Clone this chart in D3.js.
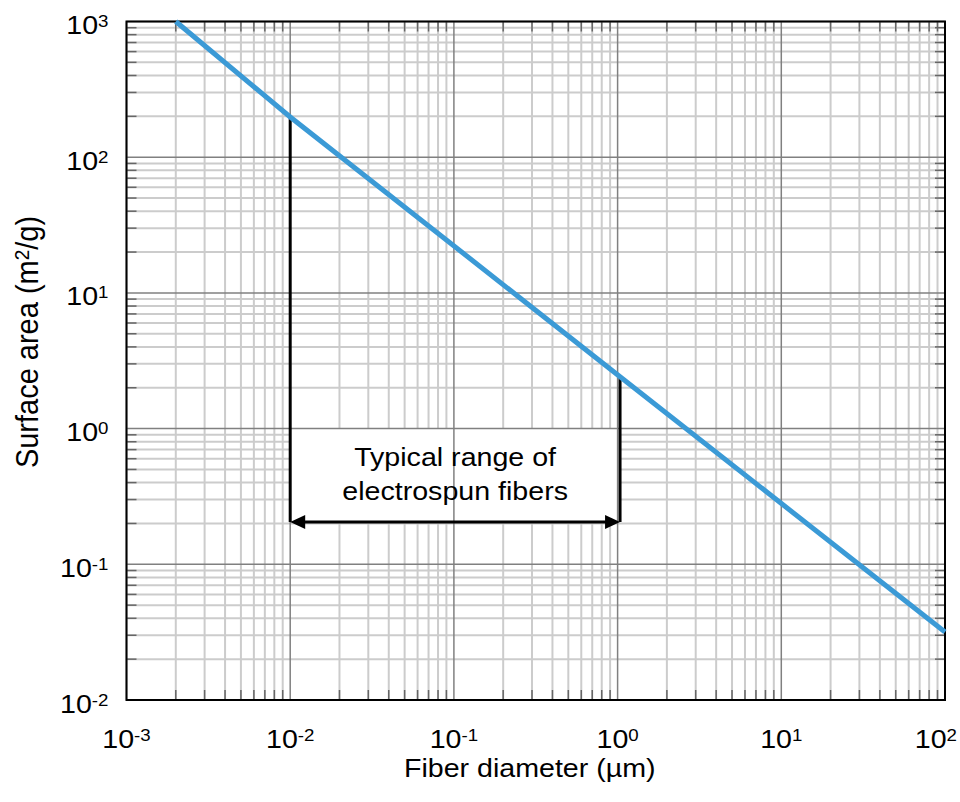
<!DOCTYPE html>
<html>
<head>
<meta charset="utf-8">
<script src="https://cdn.jsdelivr.net/npm/d3@7"></script>
<style>
  body { margin: 0; background: #fff; }
  text { font-family: "Liberation Sans", Arial, sans-serif; fill: #000; }
</style>
</head>
<body>
<script>
// data
var diameter = [0.002, 0.01, 1.035, 100];      // µm
var surfaceArea = [1000, 198, 2.41, 0.0317];    // m²/g
var xExponents = [-3, -2, -1, 0, 1, 2];
var yExponents = [-2, -1, 0, 1, 2, 3];
var rangeLow = 0.01, rangeHigh = 1.035, rangeArrowY = 0.205;
var rangeLabel = ["Typical range of", "electrospun fibers"];

// set the dimensions and margins of the graph
var margin = {top: 21.5, right: 15, bottom: 102, left: 126.5},
    width = 960 - margin.left - margin.right,
    height = 802 - margin.top - margin.bottom;

// the original is a bit wider than tall, so horizontal text gets stretched
var sx = 1.1;

var svg = d3.select("body")
  .append("svg")
    .attr("width", 960)
    .attr("height", 802)
  .append("g")
    .attr("transform", "translate(" + margin.left + "," + margin.top + ")");

var x = d3.scaleLog().domain([1e-3, 1e2]).range([0, width]);
var y = d3.scaleLog().domain([1e-2, 1e3]).range([height, 0]);

// minor values 2..9 for each decade
function minors(exps) {
  var out = [];
  for (var i = 0; i < exps.length - 1; i++) {
    for (var k = 2; k <= 9; k++) out.push(k * Math.pow(10, exps[i]));
  }
  return out;
}
var xMinor = minors(xExponents), yMinor = minors(yExponents);
var xMajor = xExponents.map(function(e) { return Math.pow(10, e); });
var yMajor = yExponents.map(function(e) { return Math.pow(10, e); });

// minor grid
svg.append("g").selectAll("line")
  .data(xMinor).enter().append("line")
    .attr("x1", function(d) { return x(d); }).attr("x2", function(d) { return x(d); })
    .attr("y1", 0).attr("y2", height)
    .attr("stroke", "#cccccc").attr("stroke-width", 2);
svg.append("g").selectAll("line")
  .data(yMinor).enter().append("line")
    .attr("y1", function(d) { return y(d); }).attr("y2", function(d) { return y(d); })
    .attr("x1", 0).attr("x2", width)
    .attr("stroke", "#cccccc").attr("stroke-width", 2);

// inner minor ticks on all four sides
var tl = 10;
var tickG = svg.append("g").attr("stroke", "#666").attr("stroke-width", 1.5);
xMinor.forEach(function(d) {
  tickG.append("line").attr("x1", x(d)).attr("x2", x(d)).attr("y1", height).attr("y2", height - tl);
  tickG.append("line").attr("x1", x(d)).attr("x2", x(d)).attr("y1", 0).attr("y2", tl);
});
yMinor.forEach(function(d) {
  tickG.append("line").attr("y1", y(d)).attr("y2", y(d)).attr("x1", 0).attr("x2", tl);
  tickG.append("line").attr("y1", y(d)).attr("y2", y(d)).attr("x1", width).attr("x2", width - tl);
});

// white box behind the annotation
svg.append("rect")
  .attr("x", x(rangeLow)).attr("y", y(1))
  .attr("width", x(rangeHigh) - x(rangeLow))
  .attr("height", y(rangeArrowY) - y(1))
  .attr("fill", "#fff");

// major grid
svg.append("g").selectAll("line")
  .data(xMajor).enter().append("line")
    .attr("x1", function(d) { return x(d); }).attr("x2", function(d) { return x(d); })
    .attr("y1", 0).attr("y2", height)
    .attr("stroke", "#808080").attr("stroke-width", 1.5);
svg.append("g").selectAll("line")
  .data(yMajor).enter().append("line")
    .attr("y1", function(d) { return y(d); }).attr("y2", function(d) { return y(d); })
    .attr("x1", 0).attr("x2", width)
    .attr("stroke", "#808080").attr("stroke-width", 1.5);

// frame
svg.append("rect")
  .attr("width", width).attr("height", height)
  .attr("fill", "none").attr("stroke", "#000").attr("stroke-width", 2);

function powerLabel(t, d) {
  t.style("font-size", "26px");
  t.append("tspan").text("10");
  t.append("tspan").attr("dy", -7).style("font-size", "17px").text(d);
}

// tick labels
svg.append("g").selectAll("text")
  .data(xExponents).enter().append("text")
    .attr("transform", function(d) {
      return "translate(" + x(Math.pow(10, d)) + "," + (height + 48) + ")scale(" + sx + ",1)";
    })
    .attr("text-anchor", "middle")
    .each(function(d) {
      var t = d3.select(this);
      powerLabel(t, d);
      // keep the last label inside the picture
      var w = this.getBBox().width * sx;
      var cx = x(Math.pow(10, d));
      var maxRight = 960 - margin.left - 3;
      if (cx + w / 2 > maxRight) {
        t.attr("transform", "translate(" + (maxRight - w / 2) + "," + (height + 48) + ")scale(" + sx + ",1)");
      }
    });
svg.append("g").selectAll("text")
  .data(yExponents).enter().append("text")
    .attr("transform", function(d) {
      return "translate(-18," + (y(Math.pow(10, d)) + 12.5) + ")scale(" + sx + ",1)";
    })
    .attr("text-anchor", "end")
    .each(function(d) { powerLabel(d3.select(this), d); });

// axis titles
svg.append("text")
  .attr("transform", "translate(" + (width / 2 - 6) + "," + (height + 77) + ")scale(" + sx + ",1)")
  .attr("text-anchor", "middle")
  .style("font-size", "26px")
  .text("Fiber diameter (µm)");

var yt = svg.append("text")
  .attr("transform", "translate(" + (38 - margin.left) + "," + (342 - margin.top) + ")rotate(-90)scale(1," + sx + ")")
  .attr("text-anchor", "middle")
  .style("font-size", "29px");
yt.append("tspan").text("Surface area (m");
yt.append("tspan").attr("dy", -8).style("font-size", "19px").text("2");
yt.append("tspan").attr("dy", 8).text("/g)");

// range bracket
var curve = d3.scaleLog().domain(diameter).range(surfaceArea);
[rangeLow, rangeHigh].forEach(function(d) {
  svg.append("line")
    .attr("x1", x(d)).attr("x2", x(d))
    .attr("y1", y(curve(d))).attr("y2", y(rangeArrowY))
    .attr("stroke", "#000").attr("stroke-width", 3);
});
var ay = y(rangeArrowY), ax0 = x(rangeLow), ax1 = x(rangeHigh);
svg.append("line")
  .attr("x1", ax0 + 12).attr("x2", ax1 - 12)
  .attr("y1", ay).attr("y2", ay)
  .attr("stroke", "#000").attr("stroke-width", 3);
svg.append("path")
  .attr("d", "M" + ax0 + "," + ay + "l15,-7l0,14z")
  .attr("fill", "#000");
svg.append("path")
  .attr("d", "M" + ax1 + "," + ay + "l-15,-7l0,14z")
  .attr("fill", "#000");

svg.append("g").selectAll("text")
  .data(rangeLabel).enter().append("text")
    .attr("transform", function(d, i) {
      return "translate(" + ((ax0 + ax1) / 2) + "," + (y(1) + 37 + i * 34) + ")scale(" + sx + ",1)";
    })
    .attr("text-anchor", "middle")
    .style("font-size", "26px")
    .text(function(d) { return d; });

// the curve
var pts = diameter.map(function(d, i) { return [d, surfaceArea[i]]; });
svg.append("path")
  .datum(pts)
  .attr("fill", "none")
  .attr("stroke", "#3b9ad6")
  .attr("stroke-width", 5)
  .attr("d", d3.line()
    .x(function(d) { return x(d[0]); })
    .y(function(d) { return y(d[1]); }));
</script>
</body>
</html>
